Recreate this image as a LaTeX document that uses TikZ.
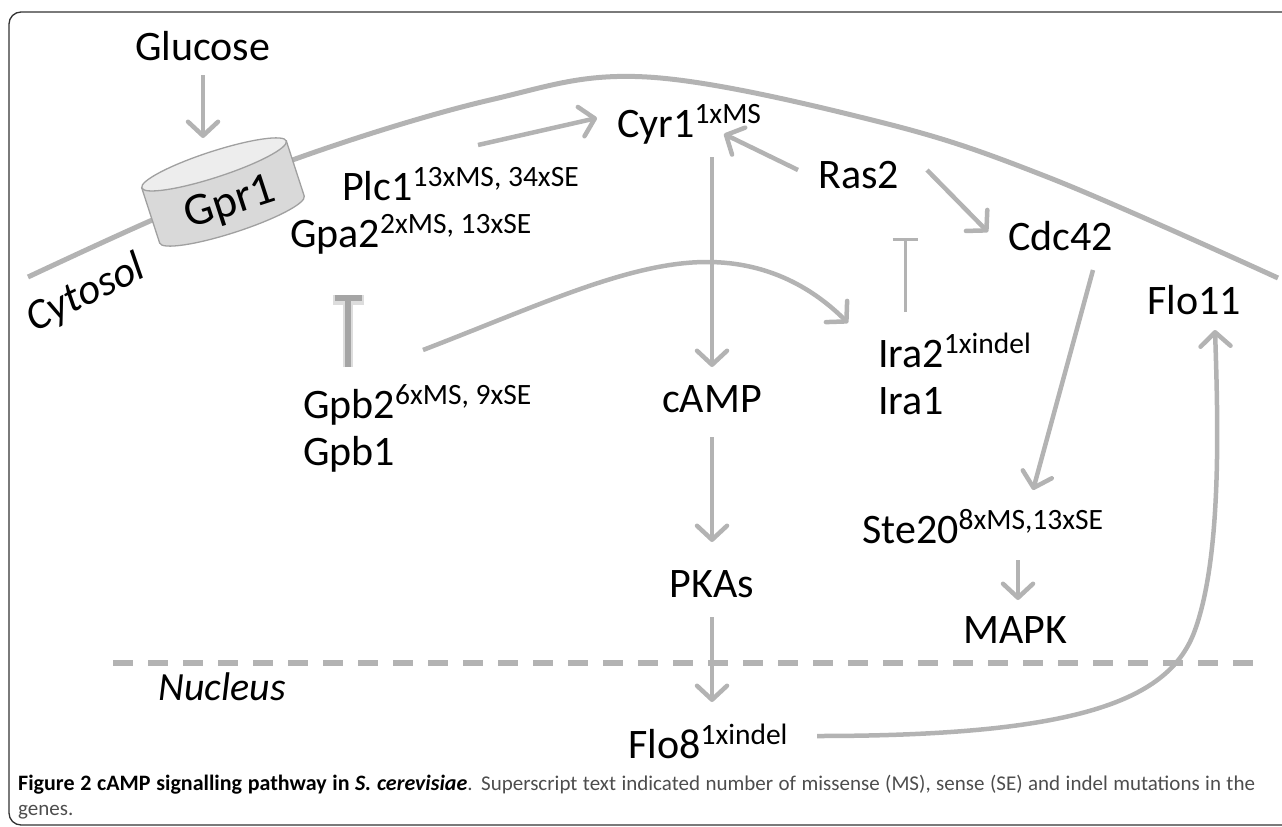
\documentclass[tikz,border=0pt]{standalone}
\usepackage{fontspec}
\setmainfont{Carlito}
\usetikzlibrary{arrows.meta}
\definecolor{lg}{RGB}{179,179,179}
\definecolor{blurg}{RGB}{165,165,165}
\definecolor{cylbody}{RGB}{217,217,217}
\definecolor{cyltop}{RGB}{237,237,237}
\definecolor{cylline}{RGB}{160,160,160}
\definecolor{captxt}{RGB}{77,77,77}
\newcommand\ssup[1]{\raisebox{14pt}{\fontsize{29.5}{29.5}\selectfont #1}}
\begin{document}
\begin{tikzpicture}[x=1pt,y=-1pt,
  lbl/.style={anchor=base west, inner sep=0pt, font=\fontsize{42}{42}\selectfont},
  clbl/.style={anchor=base, inner sep=0pt, font=\fontsize{42}{42}\selectfont},
  ital/.style={inner sep=0pt, font=\fontsize{40}{40}\selectfont\itshape},
  arr/.style={draw=lg, line width=4.5pt, -{Straight Barb[length=14pt,width=30pt,round]}},
  inh/.style={draw=lg, line width=3pt, -{Bar[width=25pt]}},
  mem/.style={draw=lg, line width=5pt},
  captionstyle/.style={anchor=base west, inner sep=0pt}]
\useasboundingbox (0,0) rectangle (1282,827);
\clip (0,0) rectangle (1282,827);
% frame
\draw[black!80, line width=1.3pt, rounded corners=12pt] (1290,12) -- (9,12) -- (9,825) -- (1290,825);
% membrane
\draw[mem] plot[smooth, tension=0.6] coordinates {(28,277) (150,221) (298,158) (490,100) (647,77) (880,122) (1050,178) (1278,278)};
% nucleus boundary
\draw[draw=lg, line width=5.5pt, dash pattern=on 20pt off 15pt] (113,663) -- (1253,663);
% Gpr1 cylinder
\begin{scope}[shift={(223,192)}, rotate=18, y=1pt]
  \filldraw[fill=cylbody, draw=cylline, line width=1.3pt] (-76,29) -- (-76,-29) arc[start angle=180, end angle=360, x radius=76, y radius=13] -- (76,29) -- cycle;
  \filldraw[fill=cyltop, draw=cylline, line width=1.3pt] (0,29) ellipse[x radius=76, y radius=13];
\end{scope}
\node[inner sep=0pt, rotate=18, font=\fontsize{46}{46}\selectfont] (gpr1) at (230,204) {Gpr1};
% labels
\node[lbl] (glucose) at (135,60) {Glucose};
\node[lbl] (plc1) at (342,200) {Plc1\ssup{13xMS, 34xSE}};
\node[lbl] (gpa2) at (290,247) {Gpa2\ssup{2xMS, 13xSE}};
\node[lbl] (cyr1) at (617,137) {Cyr1\ssup{1xMS}};
\node[lbl] (ras2) at (818,188) {Ras2};
\node[lbl] (cdc42) at (1008,250) {Cdc42};
\node[lbl] (flo11) at (1147,314) {Flo11};
\node[lbl] (ira2) at (878,367) {Ira2\ssup{1xindel}};
\node[lbl] (ira1) at (878,414) {Ira1};
\node[lbl] (gpb2) at (303,418) {Gpb2\ssup{6xMS, 9xSE}};
\node[lbl] (gpb1) at (303,465) {Gpb1};
\node[clbl] (camp) at (712,412) {cAMP};
\node[clbl] (pkas) at (712,597) {PKAs};
\node[lbl] (ste20) at (862,543) {Ste20\ssup{8xMS,13xSE}};
\node[lbl] (mapk) at (963,643) {MAPK};
\node[lbl] (flo8) at (628,758) {Flo8\ssup{1xindel}};
\node[ital, anchor=base west] (nucleus) at (158,700) {Nucleus};
\node[ital, rotate=26, font=\fontsize{43}{43}\selectfont\itshape] (cytosol) at (86,294) {Cytosol};
% connector end points
\coordinate (g1) at (203,75);   \coordinate (g2) at (203,138);
\coordinate (p1) at (478,145);  \coordinate (p2) at (597,118);
\coordinate (r1) at (798,170);  \coordinate (r2) at (724,134);
\coordinate (r3) at (927,170);  \coordinate (r4) at (988,232);
\coordinate (c1) at (712,157);  \coordinate (c2) at (712,367);
\coordinate (i1) at (905,312);  \coordinate (i2) at (905,238);
\coordinate (b1) at (348,367);  \coordinate (b2) at (348,295);
\coordinate (v1) at (423,350);  \coordinate (vm) at (707,262); \coordinate (v2) at (848,323);
\coordinate (a1) at (712,437);  \coordinate (a2) at (712,542);
\coordinate (k1) at (712,617);  \coordinate (k2) at (712,702);
\coordinate (d1) at (1093,270); \coordinate (d2) at (1033,490);
\coordinate (s1) at (1018,560); \coordinate (s2) at (1018,600);
\coordinate (f1) at (817,736);  \coordinate (fm) at (1195,630); \coordinate (f2) at (1215,330);
% connectors
\draw[arr] (g1) -- (g2);
\draw[arr] (p1) -- (p2);
\draw[arr] (r1) -- (r2);
\draw[arr] (r3) -- (r4);
\draw[arr] (c1) -- (c2);
\draw[inh] (i1) -- (i2);
\draw[draw=lg!45, line width=10pt, -{Bar[width=31pt]}] (b1) -- (b2);
\draw[draw=blurg, line width=6pt, -{Bar[width=27pt]}] (b1) -- (b2);
\draw[arr] (v1) .. controls (540,305) and (630,262) .. (vm) .. controls (770,262) and (815,290) .. (v2);
\draw[arr] (a1) -- (a2);
\draw[arr] (k1) -- (k2);
\draw[arr] (d1) -- (d2);
\draw[arr] (s1) -- (s2);
\draw[arr] (f1) .. controls (1080,736) and (1170,700) .. (fm) .. controls (1222,555) and (1218,420) .. (f2);
% caption
\node[captionstyle] (caption1) at (18,790) {\makebox[1237pt][s]{\fontsize{22}{22}\selectfont\textbf{Figure 2 cAMP signalling pathway in \textit{S. cerevisiae}}\fontsize{21}{21}\selectfont\textcolor{captxt}{. Superscript text indicated number of missense (MS), sense (SE) and indel mutations in the}}};
\node[captionstyle, text=captxt, font=\fontsize{21}{21}\selectfont] (caption2) at (18,815) {genes.};
\end{tikzpicture}
\end{document}
